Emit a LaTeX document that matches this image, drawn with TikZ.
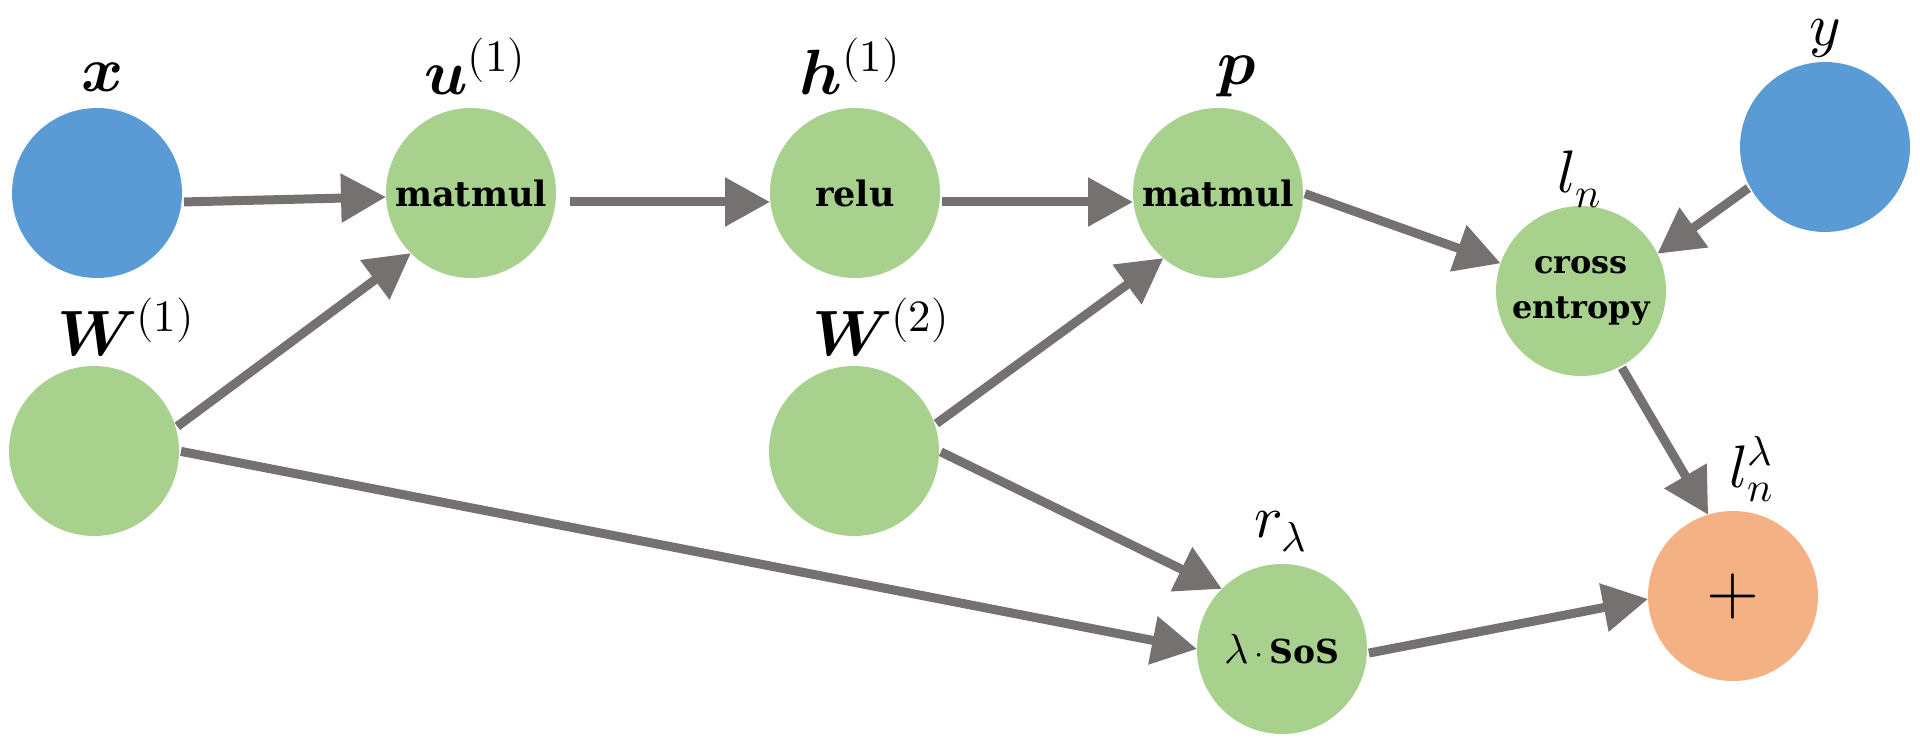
\documentclass[tikz,border=0pt]{standalone}
\usepackage{amsmath}
\usepackage{fontspec}
\usepackage{unicode-math}
\setmathfont{Latin Modern Math}
\usetikzlibrary{arrows.meta}
\newfontfamily\opfont{DejaVu Serif}
\definecolor{cblue}{HTML}{5B9BD5}
\definecolor{cgreen}{HTML}{A9D18E}
\definecolor{corange}{HTML}{F4B183}
\definecolor{carrow}{HTML}{767171}
\begin{document}
\begin{tikzpicture}[x=0.5pt,y=-0.5pt,
  nd/.style={circle, minimum size=85pt, inner sep=0pt, outer sep=0pt, align=center},
  innode/.style={nd, fill=cblue},
  opnode/.style={nd, fill=cgreen, font=\opfont\bfseries\fontsize{17.5}{22.5}\selectfont},
  sumnode/.style={nd, fill=corange, font=\fontsize{34}{36}\selectfont},
  lbl/.style={anchor=base, inner sep=0pt, font=\fontsize{32}{36}\selectfont},
  lbs/.style={anchor=base, inner sep=0pt, font=\fontsize{30}{33}\selectfont},
  conn/.style={draw=carrow, line width=4.5pt, -{Triangle[length=22.5pt,width=23.5pt]}, shorten <=1pt}
]
\useasboundingbox (0,0) rectangle (1920,743);
% nodes
\node[innode] (x) at (97,193) {};
\node[opnode] (u1) at (471,193) {matmul};
\node[opnode] (h1) at (855,193) {relu};
\node[opnode] (p) at (1218,193) {matmul};
\node[nd, fill=cgreen] (W1) at (94,451) {};
\node[nd, fill=cgreen] (W2) at (854,451) {};
\node[innode] (y) at (1825,147) {};
\node[opnode, font=\opfont\bfseries\fontsize{16}{22.5}\selectfont] (ln) at (1581,291) {cross\\entropy};
\node[opnode, font=\opfont\bfseries\fontsize{16.5}{20}\selectfont] (r) at (1282,649) {{\fontsize{21}{21}\selectfont$\lambda$}$\,\cdot\,$SoS};
\node[sumnode] (plus) at (1733,596) {$+$};
% labels
\node[lbl] (lx) at (103,92) {$\symbfit{x}$};
\node[lbl] (lu) at (475,95) {$\symbfit{u}^{(1)}$};
\node[lbl] (lh) at (850,95) {$\symbfit{h}^{(1)}$};
\node[lbl] (lp) at (1237,85) {$\symbfit{p}$};
\node[lbl] (lW1) at (126,355) {$\symbfit{W}^{(1)}$};
\node[lbl] (lW2) at (881,355) {$\symbfit{W}^{(2)}$};
\node[lbs] (ly) at (1825,46) {$y$};
\node[lbs] (lln) at (1580,193) {$l_n$};
\node[lbs] (llam) at (1752,487) {$l_n^\lambda$};
\node[lbs] (lr) at (1281,537) {$r_\lambda$};
% connectors
\draw[conn] ([yshift=-4.5pt]x.east) -- ([yshift=-2pt]u1.west);
\draw[conn, shorten <=7pt] ([yshift=-4.5pt]u1.east) -- ([yshift=-4.5pt]h1.west);
\draw[conn] ([yshift=-4.5pt]h1.east) -- ([yshift=-4.5pt]p.west);
\draw[conn] (W1.16) -- (u1.225);
\draw[conn] (W1.east) -- (r.west);
\draw[conn] (W2.18) -- (p.230);
\draw[conn] (W2.east) -- (r.135);
\draw[conn] (p.east) -- (ln.161);
\draw[conn] (y.208) -- (ln.26);
\draw[conn] (ln.-62) -- (plus.107);
\draw[conn] (r.-3) -- (plus.182);
\end{tikzpicture}
\end{document}
